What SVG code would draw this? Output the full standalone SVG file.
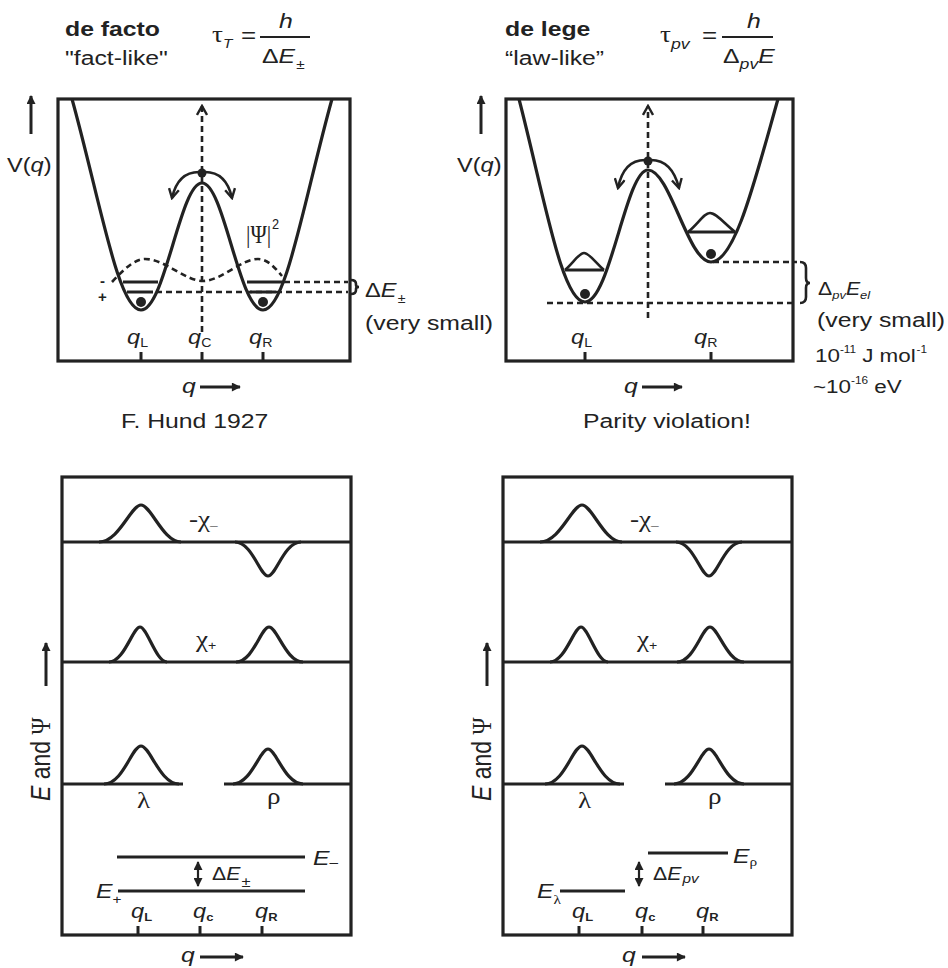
<svg xmlns="http://www.w3.org/2000/svg" width="948" height="968" viewBox="0 0 948 968">
<defs>
<style>
.frame{fill:none;stroke:#222;stroke-width:3.2}
.curve{fill:none;stroke:#222;stroke-width:3.2}
.thin{fill:none;stroke:#222;stroke-width:2.6}
.ln{stroke:#222;stroke-width:3}
.dash{fill:none;stroke:#222;stroke-width:2.6;stroke-dasharray:6 4}
.dot{fill:#222}
text{font-family:"Liberation Sans",Arial,sans-serif;fill:#222}
.it{font-style:italic}
.sym{font-family:"Liberation Serif","DejaVu Serif",serif}
.b{font-weight:bold}
</style>
<marker id="tri" viewBox="0 0 10 10" refX="9" refY="5" markerWidth="11" markerHeight="9" markerUnits="userSpaceOnUse" orient="auto-start-reverse"><path d="M0,0 L10,5 L0,10 z" fill="#222"/></marker>
<marker id="chev" viewBox="0 0 12 12" refX="10" refY="6" markerWidth="12" markerHeight="12" markerUnits="userSpaceOnUse" orient="auto"><path d="M1,1 L10,6 L1,11" fill="none" stroke="#222" stroke-width="2.4"/></marker>
</defs>
<rect width="948" height="968" fill="#fff"/>

<g id="header-defacto">
<text transform="matrix(1.18 0 0 1 65 36)" class="b" font-size="21">de facto</text>
<text transform="matrix(1.18 0 0 1 65 65)" font-size="21">"fact-like"</text>
<text transform="matrix(1.18 0 0 1 212 42)"><tspan class="sym" font-size="23">τ</tspan><tspan class="it" font-size="13" dy="6">T</tspan></text>
<text transform="matrix(1.18 0 0 1 241 43)" font-size="22">=</text>
<line x1="260" y1="37" x2="310" y2="37" stroke="#222" stroke-width="2.2"/>
<text transform="matrix(1.18 0 0 1 279 28)" class="it" font-size="21">h</text>
<text transform="matrix(1.18 0 0 1 262 63)" font-size="21">Δ<tspan class="it">E</tspan><tspan font-size="13" dy="6" dx="1">±</tspan></text>
</g>
<g id="header-delege">
<text transform="matrix(1.18 0 0 1 505 36)" class="b" font-size="21">de lege</text>
<text transform="matrix(1.18 0 0 1 505 65)" font-size="21">“law-like”</text>
<text transform="matrix(1.18 0 0 1 660 42)"><tspan class="sym" font-size="23">τ</tspan><tspan class="it" font-size="15" dy="7">pv</tspan></text>
<text transform="matrix(1.18 0 0 1 702 43)" font-size="22">=</text>
<line x1="722" y1="37" x2="773" y2="37" stroke="#222" stroke-width="2.2"/>
<text transform="matrix(1.18 0 0 1 747 28)" class="it" font-size="21">h</text>
<text transform="matrix(1.18 0 0 1 723 63)" font-size="21">Δ<tspan class="it" font-size="15" dy="6">pv</tspan><tspan class="it" dy="-6">E</tspan></text>
</g>

<g id="panel-defacto">
<rect x="58" y="99" width="292" height="262" class="frame"/>
<path class="curve" d="M72,99 C100,200 118,310 141,310 C165,310 180,183 202,183 C224,183 239,310 263,310 C286,310 304,200 332,99"/>
<path class="dash" d="M112,282 C125,268 135,259 145,259 C165,259 185,281 203,281 C221,281 241,259 258,259 C268,259 275,268 282,276"/>
<line class="dash" x1="202" y1="332" x2="202" y2="106" marker-end="url(#chev)"/>
<circle class="dot" cx="202" cy="173" r="4.5"/>
<path class="thin" d="M199,172 C186,172 176,180 172,198" marker-end="url(#chev)"/>
<path class="thin" d="M205,172 C218,172 228,180 232,198" marker-end="url(#chev)"/>
<line class="ln" x1="123" y1="282" x2="158" y2="282"/>
<line class="ln" x1="127" y1="292" x2="153" y2="292"/>
<line class="ln" x1="247" y1="282" x2="282" y2="282"/>
<line class="ln" x1="250" y1="292" x2="276" y2="292"/>
<line class="dash" x1="156" y1="292" x2="348" y2="292"/>
<line class="dash" x1="284" y1="282" x2="348" y2="282"/>
<circle class="dot" cx="141" cy="302" r="5"/>
<circle class="dot" cx="263" cy="302" r="5"/>
<text x="100" y="286" class="b" font-size="15">-</text>
<text x="98" y="302" class="b" font-size="15">+</text>
<text transform="matrix(0.85 0 0 1 246 243)" class="sym" font-size="26">|Ψ|<tspan font-family="Liberation Sans,Arial,sans-serif" font-size="15" dx="1" dy="-14">2</tspan></text>
<path class="thin" stroke-width="2" d="M351,280 Q356,280 356,284 L356,285 Q356,287 359,287 Q356,287 356,289 L356,290 Q356,294 351,294"/>
<text transform="matrix(1.18 0 0 1 365 297)" font-size="20">Δ<tspan class="it">E</tspan><tspan font-size="12" dy="6" dx="1">±</tspan></text>
<text transform="matrix(1.18 0 0 1 365 330)" font-size="21">(very small)</text>
<line class="ln" x1="141" y1="361" x2="141" y2="352"/>
<line class="ln" x1="202" y1="361" x2="202" y2="352"/>
<line class="ln" x1="263" y1="361" x2="263" y2="352"/>
<text transform="matrix(1.18 0 0 1 127 344)"><tspan class="it" font-size="20">q</tspan><tspan font-size="12" dy="3">L</tspan></text>
<text transform="matrix(1.18 0 0 1 188 344)"><tspan class="it" font-size="20">q</tspan><tspan font-size="12" dy="3">C</tspan></text>
<text transform="matrix(1.18 0 0 1 249 344)"><tspan class="it" font-size="20">q</tspan><tspan font-size="12" dy="3">R</tspan></text>
<text transform="matrix(1.18 0 0 1 7 172)" font-size="20">V(<tspan class="it">q</tspan>)</text>
<line class="ln" x1="31" y1="134" x2="31" y2="96" stroke-width="2.6" marker-end="url(#tri)"/>
<text transform="matrix(1.18 0 0 1 182 393)" class="it" font-size="21">q</text>
<line class="ln" x1="200" y1="387" x2="240" y2="387" stroke-width="2.6" marker-end="url(#tri)"/>
<text transform="matrix(1.18 0 0 1 121 428)" font-size="21">F. Hund 1927</text>
</g>

<g id="panel-delege">
<rect x="506" y="99" width="287" height="262" class="frame"/>
<path class="curve" d="M519,99 C545,200 562,302 585,302 C610,302 626,170 648,170 C670,170 688,262 711,262 C735,262 755,180 778,99"/>
<line class="dash" x1="648" y1="318" x2="648" y2="106" marker-end="url(#chev)"/>
<circle class="dot" cx="648" cy="161" r="4.5"/>
<path class="thin" d="M645,160 C632,160 622,168 618,188" marker-end="url(#chev)"/>
<path class="thin" d="M651,160 C664,160 674,168 679,188" marker-end="url(#chev)"/>
<line class="ln" x1="565" y1="270" x2="604" y2="270"/>
<path class="thin" d="M565,270 C574,262 579,253 584,253 C589,253 595,262 604,270"/>
<line class="ln" x1="688" y1="232" x2="735" y2="232"/>
<path class="thin" d="M688,232 C698,224 704,213 710,213 C716,213 724,223 735,232"/>
<circle class="dot" cx="585" cy="294" r="5"/>
<circle class="dot" cx="711" cy="254" r="5"/>
<line class="dash" x1="713" y1="262" x2="797" y2="262"/>
<line class="dash" x1="547" y1="303" x2="797" y2="303"/>
<path class="thin" stroke-width="2" d="M800,262 Q806,262 806,268 L806,278 Q806,283 810,283 Q806,283 806,288 L806,297 Q806,303 800,303"/>
<text transform="matrix(1.18 0 0 1 818 295)" font-size="18">Δ<tspan class="it" font-size="11" dy="4">pv</tspan><tspan class="it" dy="-4">E</tspan><tspan class="it" font-size="11" dy="4">el</tspan></text>
<text transform="matrix(1.18 0 0 1 817 327)" font-size="21">(very small)</text>
<text transform="matrix(1.18 0 0 1 815 362)" font-size="19">10<tspan font-size="10" dy="-9">-11</tspan><tspan x="40" dy="9">J mol</tspan><tspan x="86" font-size="10" dy="-9">-1</tspan></text>
<text transform="matrix(1.18 0 0 1 813 393)" font-size="19">~10<tspan font-size="10" dy="-9">-16</tspan><tspan x="52" dy="9">eV</tspan></text>
<line class="ln" x1="585" y1="361" x2="585" y2="352"/>
<line class="ln" x1="711" y1="361" x2="711" y2="352"/>
<text transform="matrix(1.18 0 0 1 571 344)"><tspan class="it" font-size="20">q</tspan><tspan font-size="12" dy="3">L</tspan></text>
<text transform="matrix(1.18 0 0 1 694 344)"><tspan class="it" font-size="20">q</tspan><tspan font-size="12" dy="3">R</tspan></text>
<text transform="matrix(1.18 0 0 1 457 172)" font-size="20">V(<tspan class="it">q</tspan>)</text>
<line class="ln" x1="481" y1="134" x2="481" y2="96" stroke-width="2.6" marker-end="url(#tri)"/>
<text transform="matrix(1.18 0 0 1 624 393)" class="it" font-size="21">q</text>
<line class="ln" x1="642" y1="387" x2="682" y2="387" stroke-width="2.6" marker-end="url(#tri)"/>
<text transform="matrix(1.18 0 0 1 583 428)" font-size="21">Parity violation!</text>
</g>

<g id="panel-bottom-left">
<rect x="62" y="477" width="289" height="458" class="frame"/>
<line class="ln" x1="62" y1="542" x2="351" y2="542"/>
<line class="ln" x1="62" y1="662" x2="351" y2="662"/>
<line class="ln" x1="62" y1="784" x2="183" y2="784"/>
<line class="ln" x1="224" y1="784" x2="351" y2="784"/>
<path class="curve" d="M99,542 C119,542 131,505 141,505 C151,505 163,542 181,542"/>
<path class="curve" d="M235,542 C252,542 260,576 268,576 C276,576 284,542 301,542"/>
<path class="curve" d="M109,662 C124,662 133,627 140,627 C147,627 156,662 167,662"/>
<path class="curve" d="M236,662 C253,662 261,627 269,627 C277,627 286,662 303,662"/>
<path class="curve" d="M104,784 C123,784 132,746 141,746 C150,746 160,784 179,784"/>
<path class="curve" d="M233,784 C251,784 260,749 268,749 C276,749 285,784 303,784"/>
<text transform="matrix(1.18 0 0 1 189 527)" class="sym" font-size="23">-χ<tspan font-size="13" dy="2">–</tspan></text>
<text transform="matrix(1.18 0 0 1 196 647)" class="sym" font-size="23">χ<tspan font-family="Liberation Sans,Arial,sans-serif" font-size="12" dy="3">+</tspan></text>
<text transform="matrix(1.18 0 0 1 137 808)" class="sym" font-size="23">λ</text>
<text transform="matrix(1.18 0 0 1 267 804)" class="sym" font-size="23">ρ</text>
<line class="ln" x1="117" y1="857" x2="305" y2="857"/>
<line class="ln" x1="118" y1="891" x2="305" y2="891"/>
<line x1="198" y1="862" x2="198" y2="886" stroke="#222" stroke-width="2.2" marker-start="url(#tri)" marker-end="url(#tri)"/>
<text transform="matrix(1.18 0 0 1 212 880)" font-size="18">Δ<tspan class="it">E</tspan><tspan font-size="14" dy="7" dx="1">±</tspan></text>
<text transform="matrix(1.18 0 0 1 313 865)" class="it" font-size="21">E<tspan font-style="normal" font-size="13" dy="2">–</tspan></text>
<text transform="matrix(1.18 0 0 1 96 898)" class="it" font-size="21">E<tspan font-style="normal" font-size="13" dy="6">+</tspan></text>
<line class="ln" x1="138" y1="935" x2="138" y2="926"/>
<line class="ln" x1="200" y1="935" x2="200" y2="926"/>
<line class="ln" x1="262" y1="935" x2="262" y2="926"/>
<text transform="matrix(1.18 0 0 1 131 918)"><tspan class="it" font-size="20">q</tspan><tspan class="b" font-size="11" dy="3">L</tspan></text>
<text transform="matrix(1.18 0 0 1 193 918)"><tspan class="it" font-size="20">q</tspan><tspan class="b" font-size="11" dy="3">c</tspan></text>
<text transform="matrix(1.18 0 0 1 255 918)"><tspan class="it" font-size="20">q</tspan><tspan class="b" font-size="11" dy="3">R</tspan></text>
<text transform="matrix(1.18 0 0 1 181 962)" class="it" font-size="21">q</text>
<line class="ln" x1="200" y1="957" x2="243" y2="957" stroke-width="2.6" marker-end="url(#tri)"/>
<text transform="matrix(0 -1 1.18 0 50 801)" font-size="23"><tspan class="it">E</tspan> and <tspan class="sym">Ψ</tspan></text>
<line class="ln" x1="46" y1="686" x2="46" y2="643" stroke-width="2.6" marker-end="url(#tri)"/>
</g>

<g id="panel-bottom-right">
<rect x="503" y="477" width="289" height="458" class="frame"/>
<line class="ln" x1="503" y1="542" x2="792" y2="542"/>
<line class="ln" x1="503" y1="662" x2="792" y2="662"/>
<line class="ln" x1="503" y1="784" x2="624" y2="784"/>
<line class="ln" x1="665" y1="784" x2="792" y2="784"/>
<path class="curve" d="M540,542 C560,542 572,505 582,505 C592,505 604,542 622,542"/>
<path class="curve" d="M676,542 C693,542 701,576 709,576 C717,576 725,542 742,542"/>
<path class="curve" d="M550,662 C565,662 574,627 581,627 C588,627 597,662 608,662"/>
<path class="curve" d="M677,662 C694,662 702,627 710,627 C718,627 727,662 744,662"/>
<path class="curve" d="M545,784 C564,784 573,746 582,746 C591,746 601,784 620,784"/>
<path class="curve" d="M674,784 C692,784 701,749 709,749 C717,749 726,784 744,784"/>
<text transform="matrix(1.18 0 0 1 630 527)" class="sym" font-size="23">-χ<tspan font-size="13" dy="2">–</tspan></text>
<text transform="matrix(1.18 0 0 1 637 647)" class="sym" font-size="23">χ<tspan font-family="Liberation Sans,Arial,sans-serif" font-size="12" dy="3">+</tspan></text>
<text transform="matrix(1.18 0 0 1 578 808)" class="sym" font-size="23">λ</text>
<text transform="matrix(1.18 0 0 1 708 804)" class="sym" font-size="23">ρ</text>
<line class="ln" x1="648" y1="853" x2="728" y2="853"/>
<line class="ln" x1="560" y1="891" x2="625" y2="891"/>
<line x1="639" y1="862" x2="639" y2="886" stroke="#222" stroke-width="2.2" marker-start="url(#tri)" marker-end="url(#tri)"/>
<text transform="matrix(1.18 0 0 1 653 880)" font-size="18">Δ<tspan class="it">E</tspan><tspan class="it" font-size="13" dy="3" dx="1">pv</tspan></text>
<text transform="matrix(1.18 0 0 1 733 863)" class="it" font-size="21">E<tspan class="sym" font-style="normal" font-size="13" dy="3">ρ</tspan></text>
<text transform="matrix(1.18 0 0 1 537 898)" class="it" font-size="21">E<tspan class="sym" font-style="normal" font-size="13" dy="6">λ</tspan></text>
<line class="ln" x1="579" y1="935" x2="579" y2="926"/>
<line class="ln" x1="642" y1="935" x2="642" y2="926"/>
<line class="ln" x1="703" y1="935" x2="703" y2="926"/>
<text transform="matrix(1.18 0 0 1 572 918)"><tspan class="it" font-size="20">q</tspan><tspan class="b" font-size="11" dy="3">L</tspan></text>
<text transform="matrix(1.18 0 0 1 635 918)"><tspan class="it" font-size="20">q</tspan><tspan class="b" font-size="11" dy="3">c</tspan></text>
<text transform="matrix(1.18 0 0 1 696 918)"><tspan class="it" font-size="20">q</tspan><tspan class="b" font-size="11" dy="3">R</tspan></text>
<text transform="matrix(1.18 0 0 1 622 962)" class="it" font-size="21">q</text>
<line class="ln" x1="642" y1="957" x2="685" y2="957" stroke-width="2.6" marker-end="url(#tri)"/>
<text transform="matrix(0 -1 1.18 0 491 801)" font-size="23"><tspan class="it">E</tspan> and <tspan class="sym">Ψ</tspan></text>
<line class="ln" x1="487" y1="686" x2="487" y2="643" stroke-width="2.6" marker-end="url(#tri)"/>
</g>
</svg>
